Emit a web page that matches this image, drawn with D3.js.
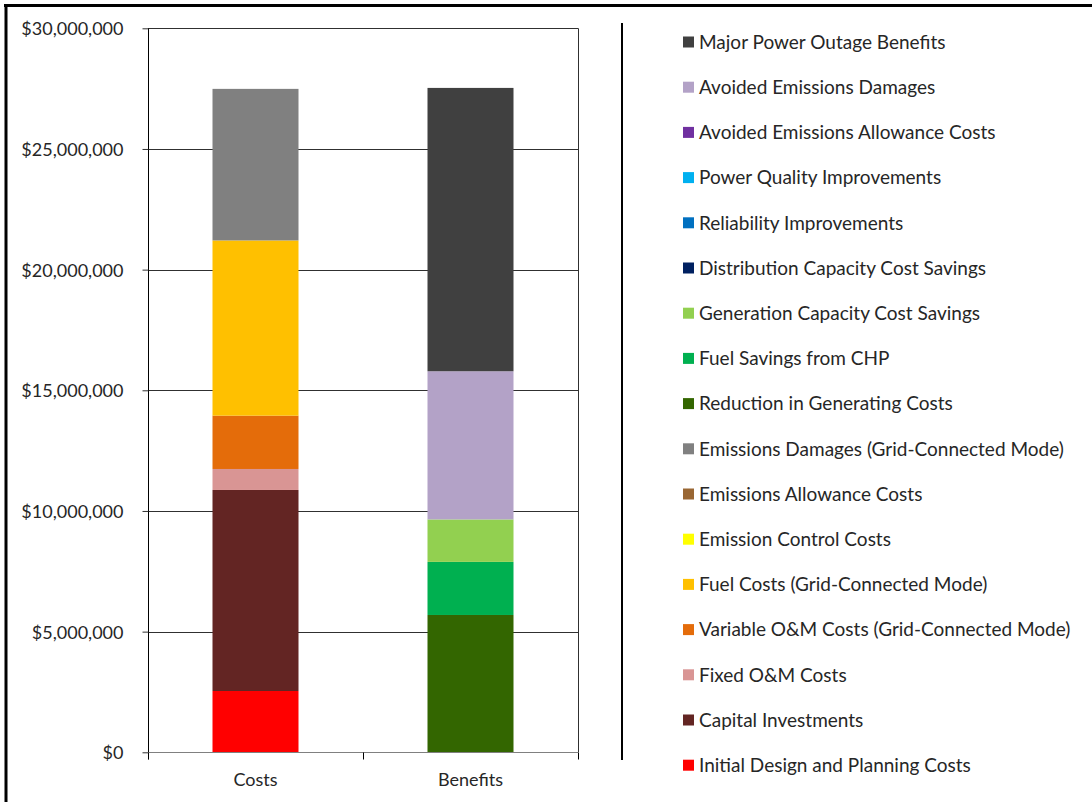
<!DOCTYPE html>
<html>
<head>
<meta charset="utf-8">
<script src="https://cdn.jsdelivr.net/npm/d3@7"></script>
<style>
  body { margin: 0; background: #fff; }
  svg text { font-family: Lato, "Open Sans", sans-serif; fill: #262626; }
</style>
</head>
<body>
<div id="chart-area"></div>
<script>
// chart values (dollars), bottom of stack first
var categories = ["Costs", "Benefits"];

var seriesNames = [
	"Initial Design and Planning Costs",
	"Capital Investments",
	"Fixed O&M Costs",
	"Variable O&M Costs (Grid-Connected Mode)",
	"Fuel Costs (Grid-Connected Mode)",
	"Emission Control Costs",
	"Emissions Allowance Costs",
	"Emissions Damages (Grid-Connected Mode)",
	"Reduction in Generating Costs",
	"Fuel Savings from CHP",
	"Generation Capacity Cost Savings",
	"Distribution Capacity Cost Savings",
	"Reliability Improvements",
	"Power Quality Improvements",
	"Avoided Emissions Allowance Costs",
	"Avoided Emissions Damages",
	"Major Power Outage Benefits"
];

var seriesColors = [
	"#ff0000", "#632523", "#d99594", "#e46c0a", "#ffc000", "#ffff00", "#996633", "#808080",
	"#336600", "#00b050", "#92d050", "#002060", "#0070c0", "#00b0f0", "#7030a0", "#b3a2c7", "#404040"
];

// [costs, benefits]
var costValues =    [2540000, 8330000, 870000, 2210000, 7260000, 0, 0, 6280000, 0, 0, 0, 0, 0, 0, 0, 0, 0];
var benefitValues = [0, 0, 0, 0, 0, 0, 0, 0, 5690000, 2200000, 1760000, 0, 0, 0, 0, 6140000, 11740000];

var yTicks = [0, 5000000, 10000000, 15000000, 20000000, 25000000, 30000000];

var width = 1092, height = 802;
var plot = {left: 148, right: 578, top: 28.3, bottom: 752.3};

var svg = d3.select("#chart-area").append("svg")
	.attr("width", width)
	.attr("height", height);

// build table for d3.stack
var table = categories.map(function(c, i) {
	var row = {category: c};
	seriesNames.forEach(function(s, j) {
		row[s] = i == 0 ? costValues[j] : benefitValues[j];
	});
	return row;
});

var stacked = d3.stack().keys(seriesNames)(table);

var x = d3.scaleBand()
	.domain(categories)
	.range([plot.left, plot.right])
	.paddingInner(0.6)
	.paddingOuter(0.3);

var y = d3.scaleLinear()
	.domain([0, 30000000])
	.range([plot.bottom, plot.top]);

var color = d3.scaleOrdinal().domain(seriesNames).range(seriesColors);

// outer frame (top and left only visible)
svg.append("line").attr("x1", 4).attr("x2", width).attr("y1", 5.5).attr("y2", 5.5)
	.attr("stroke", "#000").attr("stroke-width", 3);
svg.append("line").attr("x1", 6).attr("x2", 6).attr("y1", 4).attr("y2", height)
	.attr("stroke", "#000").attr("stroke-width", 3);

// gridlines
svg.append("g").selectAll("line")
	.data(yTicks.filter(function(d) { return d > 0; }))
	.enter().append("line")
	.attr("x1", plot.left).attr("x2", plot.right)
	.attr("y1", function(d) { return Math.round(y(d)) + 0.5; })
	.attr("y2", function(d) { return Math.round(y(d)) + 0.5; })
	.attr("stroke", "#303030")
	.attr("stroke-width", 1);

// right border of plot area
svg.append("line")
	.attr("x1", plot.right + 0.5).attr("x2", plot.right + 0.5)
	.attr("y1", plot.top).attr("y2", plot.bottom)
	.attr("stroke", "#303030");

// bars
svg.append("g").selectAll("g")
	.data(stacked)
	.enter().append("g")
	.attr("fill", function(d) { return color(d.key); })
	.selectAll("rect")
	.data(function(d) { return d; })
	.enter().append("rect")
	.attr("x", function(d) { return x(d.data.category); })
	.attr("width", x.bandwidth())
	.attr("y", function(d) { return y(d[1]); })
	.attr("height", function(d) { return y(d[0]) - y(d[1]); });

// y axis
var yAxis = d3.axisLeft(y)
	.tickValues(yTicks)
	.tickSize(6)
	.tickPadding(19)
	.tickFormat(function(d) { return "$" + d3.format(",")(d); });

var gy = svg.append("g")
	.attr("transform", "translate(" + (plot.left + 0.5) + ",0)")
	.call(yAxis);
gy.select(".domain").attr("d", "M0," + plot.top + "V" + (plot.bottom + 7)).attr("stroke", "#000");
gy.selectAll(".tick line").attr("stroke", "#303030");
gy.selectAll(".tick text")
	.style("font-size", "18px")
	.attr("fill", "#262626")
	.attr("dy", "0.36em");

// x axis
var gx = svg.append("g")
	.attr("transform", "translate(0," + (Math.round(plot.bottom) + 0.5) + ")");
gx.append("line")
	.attr("x1", plot.left).attr("x2", plot.right)
	.attr("stroke", "#808080").attr("stroke-width", 1.2);
gx.selectAll(".xtick")
	.data([plot.left, (plot.left + plot.right) / 2, plot.right])
	.enter().append("line")
	.attr("class", "xtick")
	.attr("x1", function(d) { return Math.round(d) + 0.5; })
	.attr("x2", function(d) { return Math.round(d) + 0.5; })
	.attr("y1", 0).attr("y2", 7)
	.attr("stroke", "#000");
gx.selectAll(".xlabel")
	.data(categories)
	.enter().append("text")
	.attr("class", "xlabel")
	.attr("x", function(d) { return x(d) + x.bandwidth() / 2; })
	.attr("y", 33)
	.attr("text-anchor", "middle")
	.style("font-size", "18px")
	.text(function(d) { return d; });

// legend
svg.append("line")
	.attr("x1", 622).attr("x2", 622)
	.attr("y1", 23).attr("y2", 760)
	.attr("stroke", "#000").attr("stroke-width", 2);

var legendNames = seriesNames.slice().reverse();
var legend = svg.append("g").selectAll("g")
	.data(legendNames)
	.enter().append("g")
	.attr("transform", function(d, i) { return "translate(683," + (42 + i * 45.2) + ")"; });

legend.append("rect")
	.attr("x", 0).attr("y", -5.5)
	.attr("width", 11).attr("height", 11)
	.attr("fill", function(d) { return color(d); });

legend.append("text")
	.attr("x", 16)
	.attr("y", 0)
	.attr("dy", "0.36em")
	.style("font-size", "19px")
	.text(function(d) { return d; });
</script>
</body>
</html>
